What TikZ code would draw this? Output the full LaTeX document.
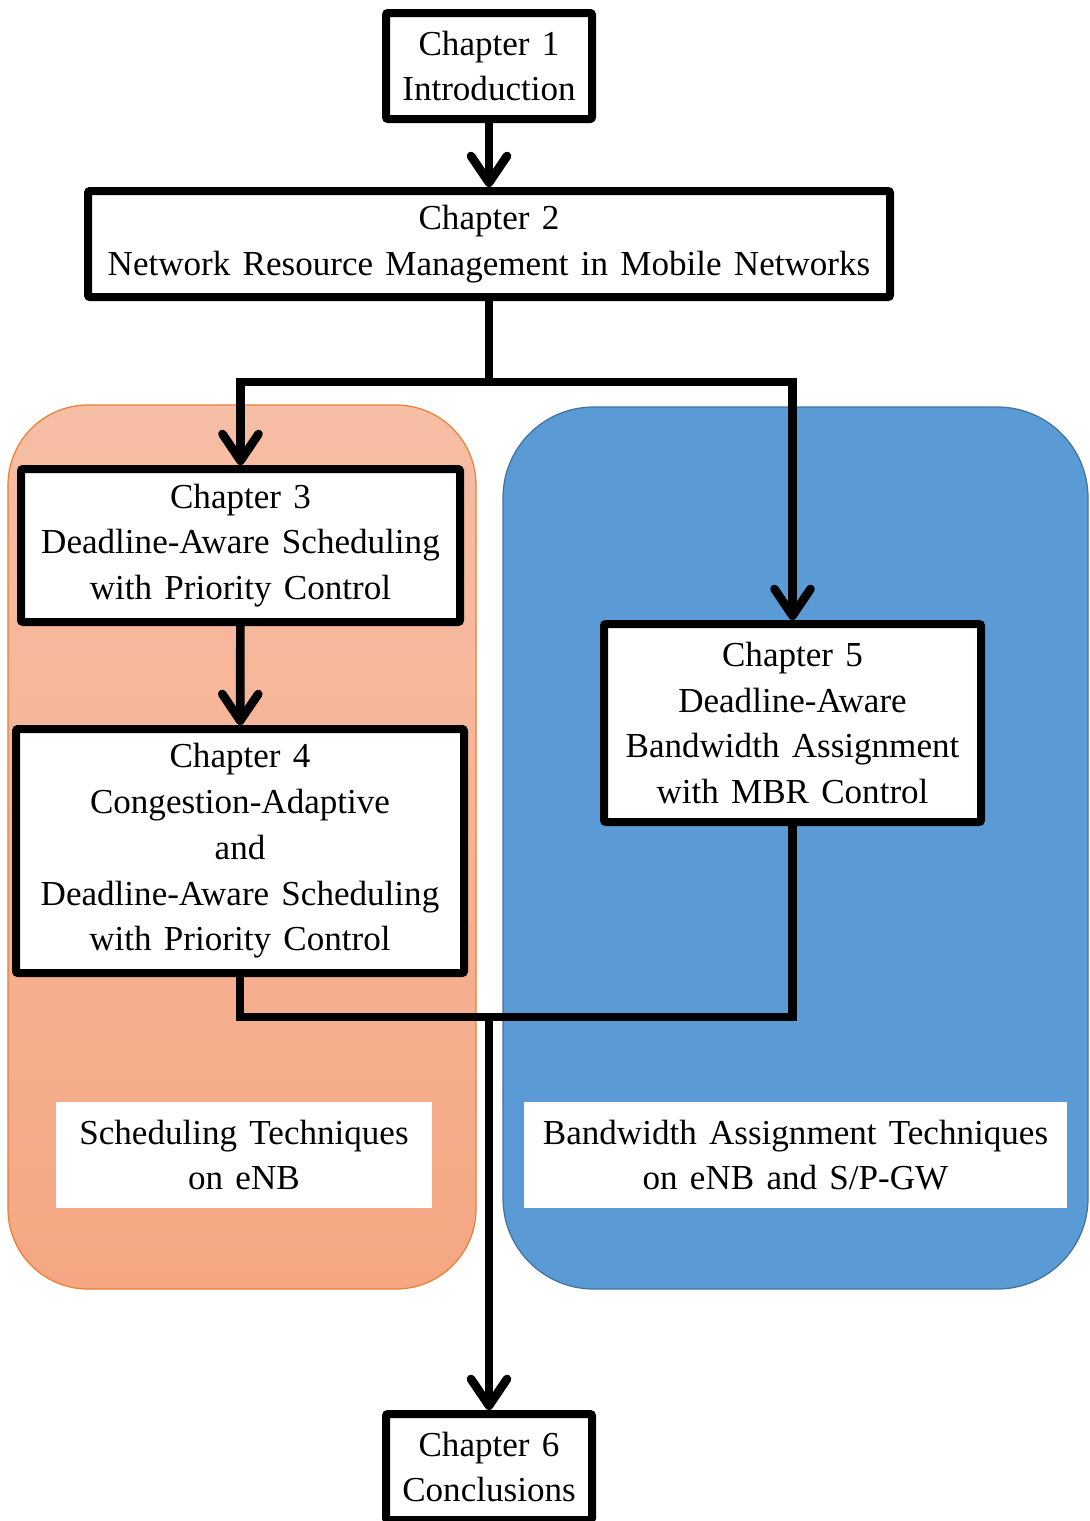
\documentclass[tikz,border=0pt]{standalone}
\usepackage{fontspec}
\setmainfont[WordSpace=1.4]{Liberation Serif}
\usetikzlibrary{arrows.meta}

\definecolor{schedtop}{RGB}{246,190,165}
\definecolor{schedbottom}{RGB}{245,167,131}
\definecolor{schedline}{RGB}{237,125,49}
\definecolor{bwfill}{RGB}{91,155,213}
\definecolor{bwline}{RGB}{65,113,156}

\tikzset{every picture/.style={line width=0.75pt}}
\tikzset{
  chapbox/.style={draw=black, line width=6pt, fill=white, rounded corners=1.5pt,
    align=center, inner sep=0pt, font=\fontsize{26.3}{34.3}\selectfont},
  techlabel/.style={fill=white, align=center, inner sep=0pt,
    font=\fontsize{26.3}{34.3}\selectfont},
  flow/.style={draw=black, line width=6.5pt},
  flowarrow/.style={flow, -{Straight Barb[length=20pt,width=27pt,round]}}
}

\begin{document}
\begin{tikzpicture}[x=0.75pt,y=0.75pt,yscale=-1,xscale=1]
	\useasboundingbox (0,0) rectangle (1089,1521);
	
	%Rounded Rect: scheduling group
	\draw [draw=schedline, line width=0.9pt, top color=schedtop, bottom color=schedbottom, rounded corners=60pt] (8,405) rectangle (476,1289);
	%Rounded Rect: bandwidth group
	\draw [draw=bwline, line width=0.9pt, fill=bwfill, rounded corners=68pt] (503,407) rectangle (1088,1289);
	
	% Group labels
	\node [techlabel, minimum width=282pt, minimum height=79.5pt] (schedlbl) at (244,1155) {Scheduling Techniques\\on eNB};
	\node [techlabel, minimum width=407.25pt, minimum height=79.5pt] (bwlbl) at (795.5,1155) {Bandwidth Assignment Techniques\\on eNB and S/P-GW};
	
	% Chapter boxes
	\node [chapbox, minimum width=154.5pt, minimum height=79.5pt] (ch1) at (489,66) {Chapter 1\\Introduction};
	\node [chapbox, minimum width=601.5pt, minimum height=79.5pt] (ch2) at (489,244) {Chapter 2\\Network Resource Management in Mobile Networks};
	\node [chapbox, minimum width=329.25pt, minimum height=114.75pt] (ch3) at (240.5,545.5) {Chapter 3\\Deadline-Aware Scheduling\\with Priority Control};
	\node [chapbox, minimum width=336pt, minimum height=183pt] (ch4) at (240,851) {Chapter 4\\Congestion-Adaptive\\and\\Deadline-Aware Scheduling\\with Priority Control};
	\node [chapbox, minimum width=282.75pt, minimum height=148.5pt] (ch5) at (792.5,723) {Chapter 5\\Deadline-Aware\\Bandwidth Assignment\\with MBR Control};
	\node [chapbox, minimum width=154.5pt, minimum height=79.5pt] (ch6) at (489,1467) {Chapter 6\\Conclusions};
	
	% Branch and join points
	\coordinate (split) at (489,382);
	\coordinate (merge) at (489,1017);
	
	%Connectors
	\draw [flowarrow] (ch1) -- (ch2);
	\draw [flow] (ch2.south) -- (split);
	\draw [flowarrow] (split) -| (ch3.north);
	\draw [flowarrow] (split) -| (ch5.north);
	\draw [flowarrow] (ch3) -- (ch4);
	\draw [flow] (ch4.south) |- (merge);
	\draw [flow] (ch5.south) |- (merge);
	\draw [flowarrow] (merge) -- (ch6.north);
	
\end{tikzpicture}
\end{document}
